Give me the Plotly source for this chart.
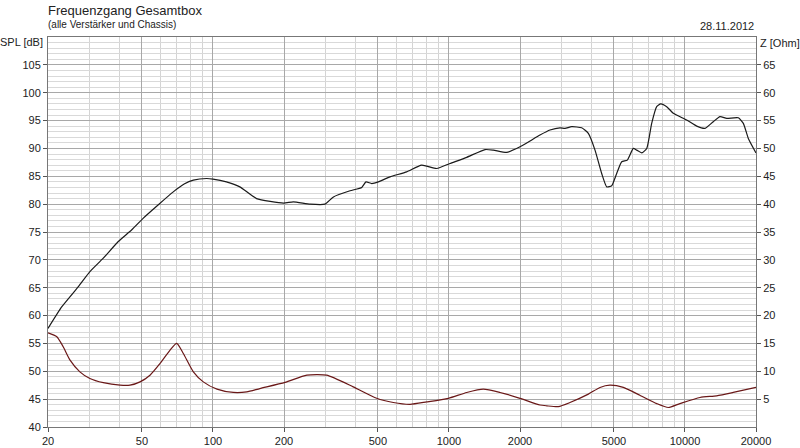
import plotly.graph_objects as go
import numpy as np

# SPL curve (black)
spl_freq = [20, 22.9, 26.9, 30.1, 34.3, 39.7, 45.3, 50.7, 58.7, 67.9, 75.5, 82.6, 94, 100, 114, 130, 153,
            199, 219, 258, 298, 324, 381, 427, 445, 471, 502, 563, 662, 766, 887, 1010, 1189, 1422, 1542,
            1756, 2000, 2430, 2680, 2954, 3102, 3312, 3652, 3896, 4158, 4438, 4662, 4894, 5138, 5396,
            5698, 6040, 6246, 6560, 6888, 7228, 7590, 7892, 8368, 8924, 10166, 11216, 12158, 13184,
            14076, 15032, 16836, 17676, 18556, 20000]
spl_db = [57.7, 61.6, 65.2, 67.9, 70.3, 73.3, 75.4, 77.5, 79.9, 82.2, 83.6, 84.3, 84.6, 84.5, 84.0, 83.1,
          81.0, 80.2, 80.4, 80.0, 80.0, 81.3, 82.4, 83.0, 84.0, 83.7, 84.0, 84.9, 85.8, 87.0, 86.4, 87.3,
          88.4, 89.8, 89.7, 89.3, 90.3, 92.4, 93.3, 93.7, 93.6, 93.9, 93.7, 92.7, 89.7, 85.5, 83.1, 83.3,
          85.5, 87.6, 87.9, 90.0, 89.7, 89.2, 90.0, 94.5, 97.5, 98.0, 97.5, 96.3, 95.1, 94.0, 93.6, 94.8,
          95.7, 95.4, 95.5, 94.5, 91.8, 89.2]

# Impedance curve (dark red)
z_freq = [20, 21.8, 23.2, 24.8, 27.3, 30.1, 34.3, 40.4, 44.5, 49.1, 54.1, 59.7, 65.8, 70.2, 74.9, 82.6,
          91, 104, 122, 139, 158, 202, 250, 303, 393, 494, 581, 684, 805, 994, 1189, 1398, 1646, 2000,
          2430, 2596, 2906, 3258, 3896, 4366, 4810, 5480, 6440, 7590, 8500, 9520, 11580, 13620, 16020,
          20000]
z_ohm = [16.9, 16.2, 14.4, 12.0, 9.9, 8.7, 7.95, 7.5, 7.5, 8.1, 9.3, 11.4, 13.8, 15.0, 13.2, 9.9, 8.1,
         6.8, 6.2, 6.3, 6.9, 8.0, 9.3, 9.3, 7.2, 5.15, 4.4, 4.07, 4.5, 5.15, 6.2, 6.8, 6.2, 5.15, 3.95,
         3.8, 3.65, 4.4, 5.9, 7.1, 7.5, 7.1, 5.7, 4.2, 3.5, 4.2, 5.3, 5.6, 6.2, 7.1]

x_major = [20, 50, 100, 200, 500, 1000, 2000, 5000, 10000, 20000]
x_labels = ["20", "50", "100", "200", "500", "1000", "2000", "5000", "10000", "20000"]
x_minor = [30, 40, 60, 70, 80, 90, 300, 400, 600, 700, 800, 900, 3000, 4000, 6000, 7000, 8000, 9000]
spl_ticks = list(range(40, 110, 5))
z_ticks = list(range(5, 70, 5))

FONT = "Liberation Sans, Arial, sans-serif"

fig = go.Figure()
fig.add_trace(go.Scatter(x=spl_freq, y=spl_db, mode="lines",
                         line=dict(color="#1a1a1a", width=1.2, shape="spline", smoothing=0.5),
                         showlegend=False, hoverinfo="skip"))
fig.add_trace(go.Scatter(x=z_freq, y=z_ohm, mode="lines", yaxis="y2",
                         line=dict(color="#6a1818", width=1.2, shape="spline", smoothing=0.6),
                         showlegend=False, hoverinfo="skip"))

fig.update_layout(
    width=800, height=448, autosize=False,
    margin=dict(l=48, r=44, t=37, b=21, pad=0, autoexpand=False),
    paper_bgcolor="white", plot_bgcolor="white",
    font=dict(family=FONT, size=11, color="#222"),
    xaxis=dict(type="log", range=[np.log10(20), np.log10(20000)], automargin=False,
               tickmode="array", tickvals=x_major, ticktext=x_labels,
               ticks="outside", ticklen=4, tickcolor="#555",
               showgrid=True, gridcolor="#a8a8a8", gridwidth=1,
               minor=dict(tickmode="array", tickvals=x_minor, showgrid=True,
                          gridcolor="#d4d4d4", ticks=""),
               showline=True, linecolor="#777", mirror=True,
               zeroline=False, fixedrange=True, tickfont=dict(size=11)),
    yaxis=dict(range=[40, 110], tickmode="array", tickvals=spl_ticks, automargin=False,
               ticks="outside", ticklen=4, tickcolor="#555",
               showgrid=True, gridcolor="#a8a8a8", gridwidth=1,
               minor=dict(dtick=1, tick0=40, showgrid=True, gridcolor="#d9d9d9", ticks=""),
               showline=True, linecolor="#777", mirror=True,
               zeroline=False, fixedrange=True, tickfont=dict(size=11)),
    yaxis2=dict(range=[0, 70], overlaying="y", side="right", tickmode="array", automargin=False,
                tickvals=z_ticks, ticks="outside", ticklen=4, tickcolor="#555",
                showgrid=False, showline=True, linecolor="#777",
                zeroline=False, fixedrange=True, tickfont=dict(size=11)),
)

fig.add_annotation(text="Frequenzgang Gesamtbox", xref="paper", yref="paper", x=0, y=1.069,
                   xanchor="left", yanchor="middle", showarrow=False, xshift=-2,
                   font=dict(size=13, family=FONT, color="#222"))
fig.add_annotation(text="(alle Verstärker und Chassis)", xref="paper", yref="paper", x=0, y=1.033,
                   xanchor="left", yanchor="middle", showarrow=False, xshift=-2,
                   font=dict(size=10, family=FONT, color="#222"))
fig.add_annotation(text="28.11.2012", xref="paper", yref="paper", x=1, y=1.028,
                   xanchor="right", yanchor="middle", showarrow=False,
                   font=dict(size=11, family=FONT, color="#222"))
fig.add_annotation(text="SPL [dB]", xref="paper", yref="paper", x=0, y=0.987,
                   xanchor="right", yanchor="middle", showarrow=False, xshift=-3,
                   font=dict(size=11, family=FONT, color="#222"))
fig.add_annotation(text="Z [Ohm]", xref="paper", yref="paper", x=1, y=0.985,
                   xanchor="left", yanchor="middle", showarrow=False, xshift=2,
                   font=dict(size=11, family=FONT, color="#222"))

fig.write_html("out.html", config={"displayModeBar": False, "responsive": False},
               post_script="document.body.style.margin='0';document.body.style.overflow='hidden';")
